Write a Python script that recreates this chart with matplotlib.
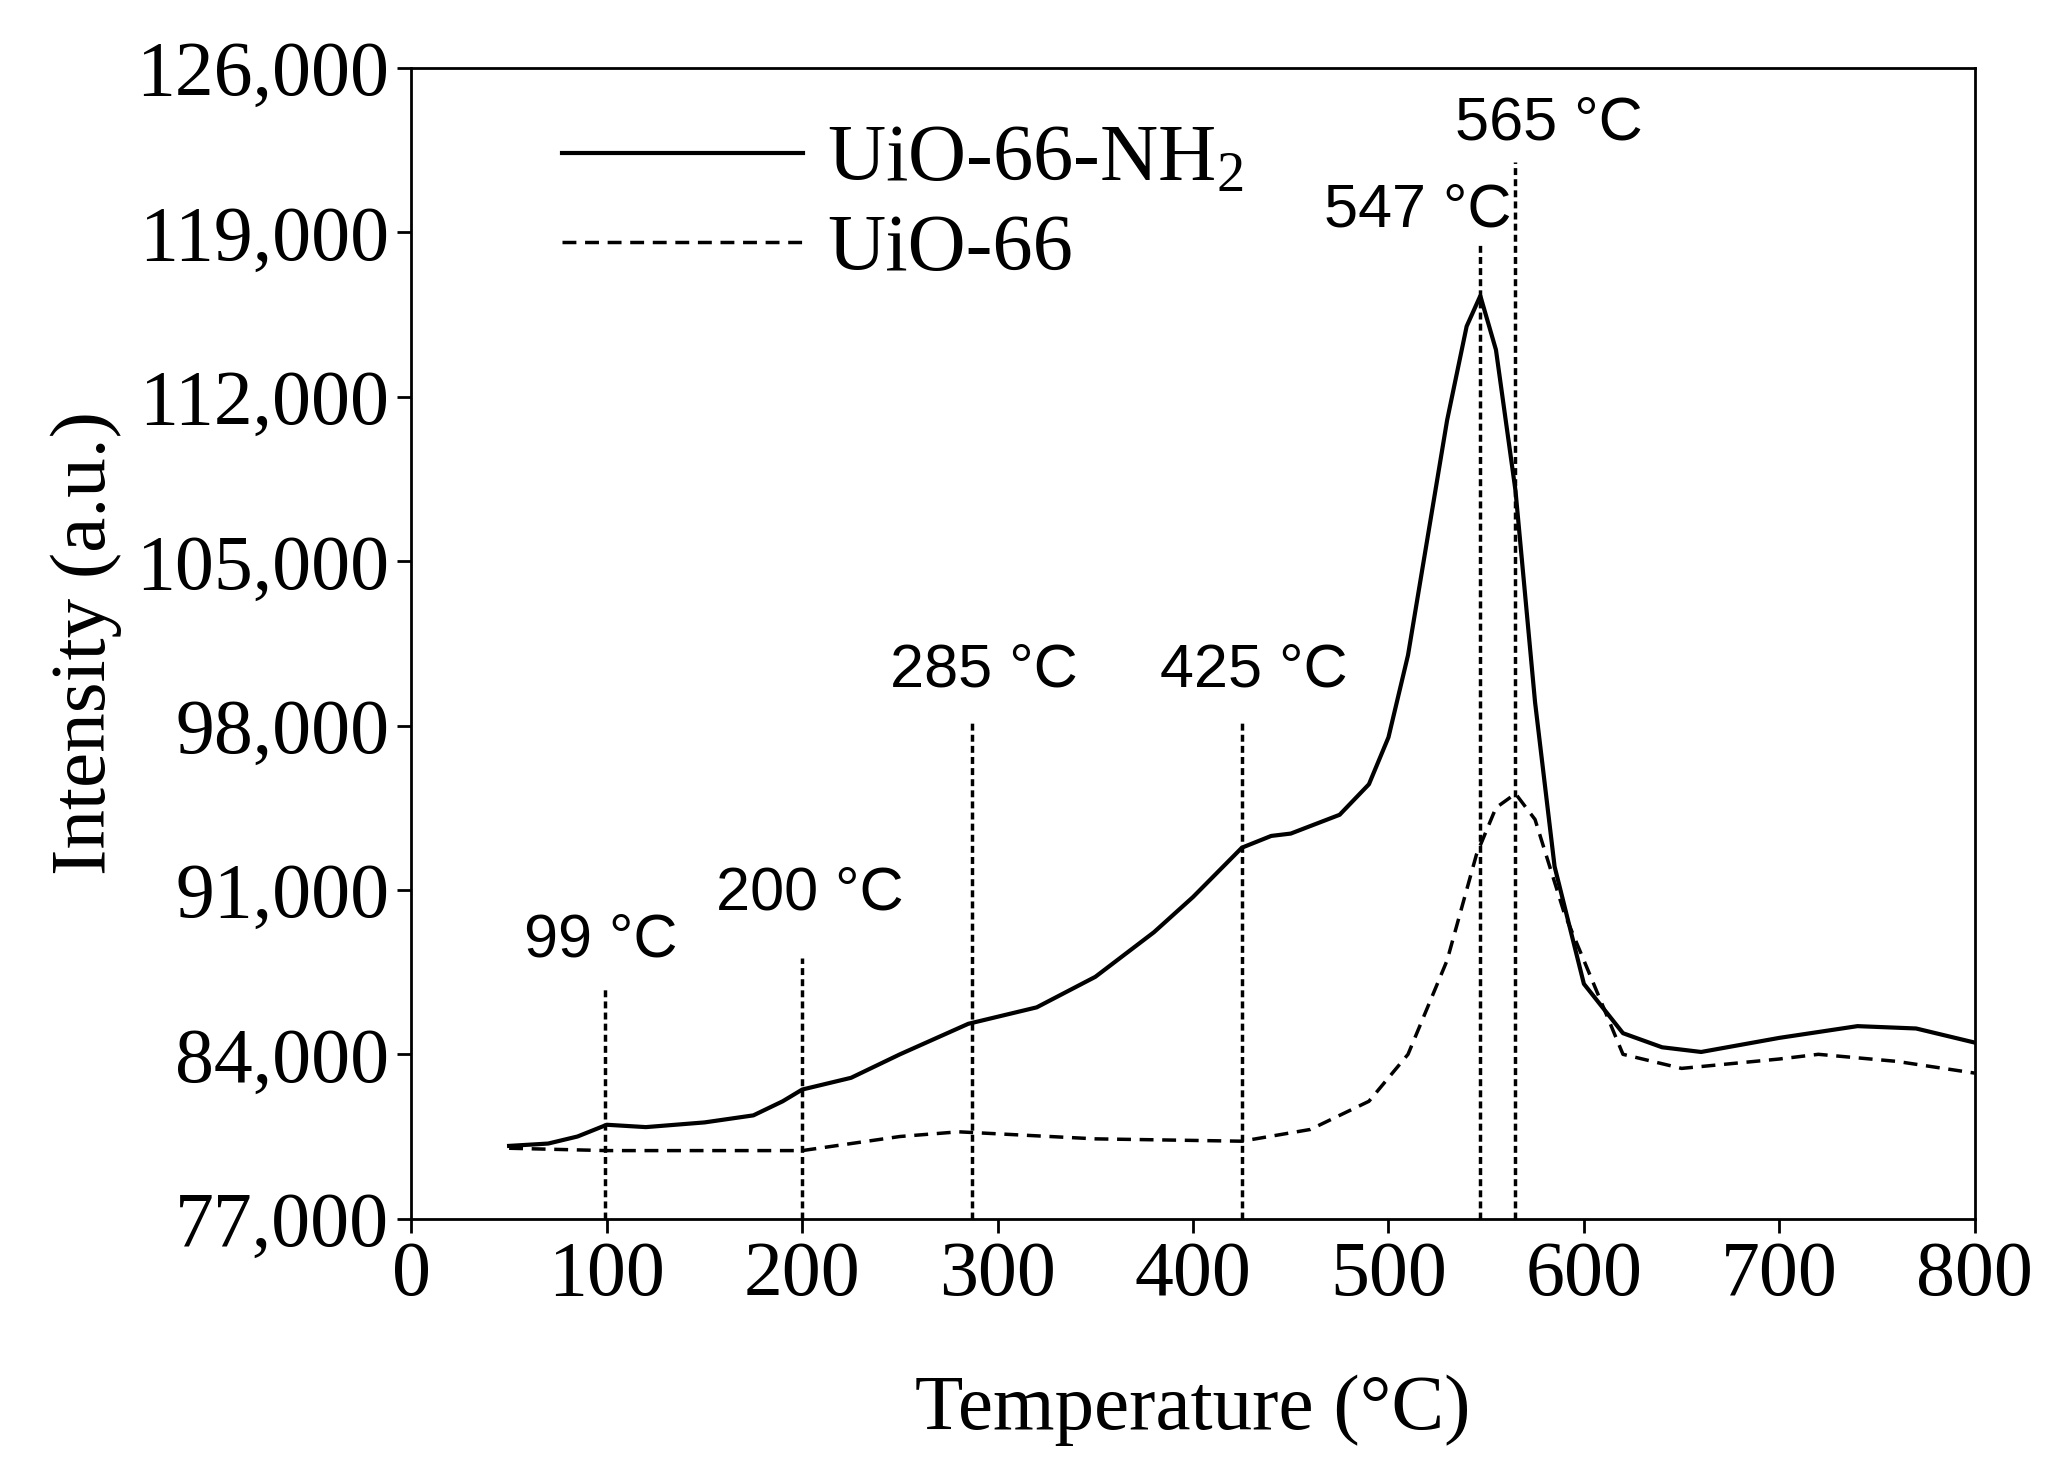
import matplotlib.pyplot as plt
import numpy as np

plt.rcParams['mathtext.fontset'] = 'custom'
plt.rcParams['mathtext.rm'] = 'Liberation Serif'
plt.rcParams['mathtext.it'] = 'Liberation Serif:italic'

# UiO-66-NH2 (solid)
t_nh2 = [50, 70, 85, 100, 120, 150, 175, 190, 200, 225, 250, 285, 320, 350, 380, 400, 425, 440,
         450, 475, 490, 500, 510, 520, 530, 540, 547, 555, 565, 575, 585, 600, 620, 640, 660, 700, 740, 770, 800]
i_nh2 = [80100, 80200, 80500, 81000, 80900, 81100, 81400, 82000, 82500, 83000, 84000, 85300, 86000,
         87300, 89200, 90700, 92800, 93300, 93400, 94200, 95500, 97500, 101000, 106000, 111000, 115000,
         116300, 114000, 108000, 99000, 92000, 87000, 84900, 84300, 84100, 84700, 85200, 85100, 84500]

# UiO-66 (dashed)
t_66 = [50, 100, 200, 250, 280, 350, 425, 460, 490, 510, 530, 545, 555, 565, 575, 590, 610, 620,
        650, 700, 720, 760, 800]
i_66 = [80000, 79900, 79900, 80500, 80700, 80400, 80300, 80800, 82000, 84000, 88000, 92500, 94500,
        95100, 94000, 90000, 86000, 84000, 83400, 83800, 84000, 83700, 83200]

# marked temperatures, line top, label
marks = [99, 200, 287, 425, 547, 565]
mark_tops = [86800, 88100, 98300, 98300, 118600, 122000]
mark_labels = ['99 °C', '200 °C', '285 °C', '425 °C', '547 °C', '565 °C']
label_pos = [(97, 87600), (204, 89600), (293, 99100), (431, 99100), (515, 118700), (582, 122400)]

serif = 'Liberation Serif'
sans = 'Liberation Sans'

fig = plt.figure(figsize=(20.57, 14.79), dpi=100)
ax = fig.add_axes([0.2, 0.176, 0.76, 0.778])

ax.plot(t_nh2, i_nh2, color='black', lw=3, label='UiO-66-NH$_2$')
ax.plot(t_66, i_66, color='black', lw=2.5, ls=(0, (4, 2.5)), label='UiO-66')

for x, top in zip(marks, mark_tops):
    ax.plot([x, x], [77000, top], color='black', lw=2.5, ls=(0, (2, 1.2)))
for txt, (x, y) in zip(mark_labels, label_pos):
    ax.text(x, y, txt, family=sans, fontsize=44, ha='center', va='bottom')

ax.set_xlim(0, 800)
ax.set_ylim(77000, 126000)
ax.set_xticks(np.arange(0, 801, 100))
ax.set_yticks(np.arange(77000, 126001, 7000))
ax.set_yticklabels([f'{v:,}' for v in range(77000, 126001, 7000)])
ax.tick_params(direction='out', length=10, width=2, labelsize=56, pad=6)
for lab in ax.get_xticklabels() + ax.get_yticklabels():
    lab.set_family(serif)
for s in ax.spines.values():
    s.set_linewidth(2)

ax.set_xlabel('Temperature (°C)', family=serif, fontsize=57, labelpad=45)
ax.set_ylabel('Intensity (a.u.)', family=serif, fontsize=57, labelpad=10)

leg = ax.legend(loc='upper left', frameon=False, prop={'family': serif, 'size': 58},
                handlelength=3.0, borderaxespad=0.3, labelspacing=0.2, handletextpad=0.3,
                bbox_to_anchor=(0.06, 1.0))

fig.savefig('out.png', dpi=100)
